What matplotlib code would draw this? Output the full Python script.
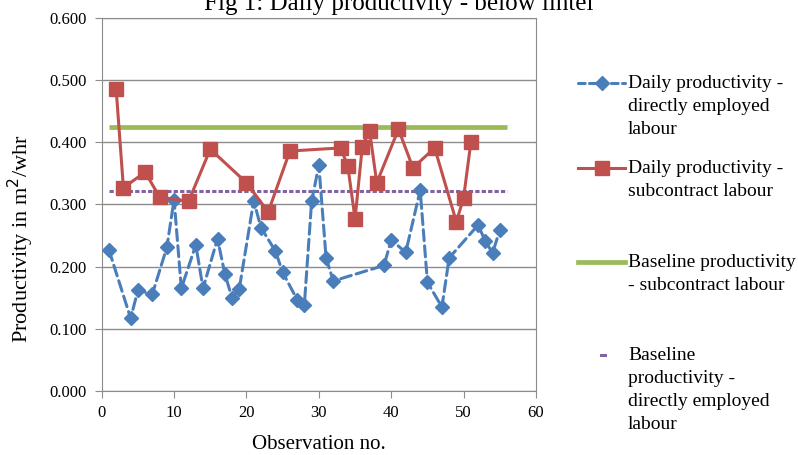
import matplotlib.pyplot as plt
from matplotlib.lines import Line2D

plt.rcParams['font.family'] = ['Liberation Serif', 'DejaVu Serif']

# --- Data ---
obs_direct = [1, 4, 5, 7, 9, 10, 11, 13, 14, 16, 17, 18, 19, 21, 22, 24, 25, 27, 28,
              29, 30, 31, 32, 39, 40, 42, 44, 45, 47, 48, 52, 53, 54, 55]
prod_direct = [0.227, 0.117, 0.162, 0.156, 0.231, 0.308, 0.165, 0.235, 0.165, 0.245,
               0.189, 0.150, 0.164, 0.306, 0.263, 0.225, 0.191, 0.147, 0.139,
               0.305, 0.363, 0.214, 0.177, 0.202, 0.243, 0.223, 0.323, 0.175,
               0.135, 0.214, 0.267, 0.241, 0.222, 0.259]

obs_sub = [2, 3, 6, 8, 12, 15, 20, 23, 26, 33, 34, 35, 36, 37, 38, 41, 43, 46, 49, 50, 51]
prod_sub = [0.485, 0.327, 0.352, 0.312, 0.305, 0.389, 0.335, 0.288, 0.386, 0.391,
            0.362, 0.277, 0.393, 0.419, 0.335, 0.421, 0.359, 0.391, 0.272, 0.311, 0.400]

baseline_x = [1, 56]
baseline_sub = [0.425, 0.425]
baseline_direct = [0.321, 0.321]

legend_labels = ["Daily productivity -\ndirectly employed\nlabour",
                 "Daily productivity -\nsubcontract labour",
                 "Baseline productivity\n- subcontract labour",
                 "Baseline\nproductivity -\ndirectly employed\nlabour"]

BLUE = "#4A7EBB"
RED = "#C0504D"
GREEN = "#9BBB59"
PURPLE = "#8064A2"
GRID = "#8C8C8C"

W, H = 798, 455
fig = plt.figure(figsize=(W / 100, H / 100), dpi=100)
ax = fig.add_axes([101.7 / W, 1 - 391 / H, (536 - 101.7) / W, (391 - 18) / H])

ax.plot(baseline_x, baseline_sub, color=GREEN, lw=3.4, solid_capstyle='butt', zorder=2)
ax.plot(baseline_x, baseline_direct, color=PURPLE, lw=2.2, linestyle=(0, (1.4, 0.7)), zorder=2)
ax.plot(obs_direct, prod_direct, color=BLUE, lw=2.2, linestyle=(0, (3.6, 1.7)),
        dash_capstyle='round', marker='D', markersize=7.5, zorder=3)
ax.plot(obs_sub, prod_sub, color=RED, lw=2.2, marker='s', markersize=9.5, zorder=4)

ax.set_xlim(0, 60)
ax.set_ylim(0, 0.6)
ax.set_xticks(range(0, 61, 10))
ax.set_yticks([i / 10 for i in range(7)])
ax.set_yticklabels([f"{i / 10:.3f}" for i in range(7)])
ax.grid(axis='y', color=GRID, lw=1.0)
ax.set_axisbelow(True)
for s in ax.spines.values():
    s.set_color(GRID)
ax.tick_params(colors=GRID, labelcolor='black', labelsize=12, length=5, direction='out')
ax.tick_params(axis='x', pad=5)
ax.tick_params(axis='y', pad=5.5)

ax.set_xlabel("Observation no.", fontsize=15, labelpad=10)
ax.set_ylabel("Productivity in m$^2$/whr", fontsize=16)
ax.yaxis.set_label_coords(-0.151, 0.41)

fig.text(0.5, 1 - 10 / H, "Fig 1: Daily productivity - below lintel", fontsize=18,
         ha='center', va='baseline')

# --- Legend drawn by hand ---
def fy(y):
    return 1 - y / H

def fx(x):
    return x / W

entries = [
    (83, dict(color=BLUE, lw=2.2, linestyle=(0, (2.2, 1.4)), dash_capstyle='round'), 'D', 7.5),
    (168, dict(color=RED, lw=2.2), 's', 9.5),
    (262, dict(color=GREEN, lw=3.4), None, 0),
    (355, None, None, 0),
]
for (y, style, mk, ms), label in zip(entries, legend_labels):
    if style is not None:
        fig.add_artist(Line2D([fx(578), fx(625)], [fy(y), fy(y)], **style))
        if mk:
            fig.add_artist(Line2D([fx(601.5)], [fy(y)], marker=mk, markersize=ms,
                                  color=style['color'], lw=0))
    else:
        fig.add_artist(Line2D([fx(601), fx(605)], [fy(y), fy(y)], color=PURPLE, lw=2.2))
    fig.text(fx(628), fy(y - 8), label, fontsize=14, va='top', ha='left', linespacing=1.45)

fig.savefig("out.png", dpi=100)
